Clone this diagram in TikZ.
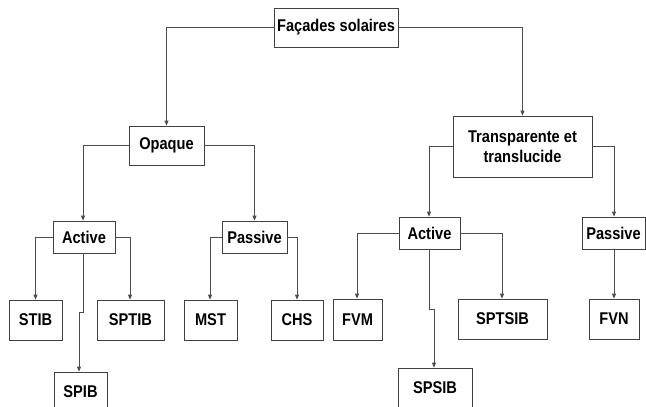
\documentclass[tikz,border=0pt]{standalone}
\usepackage{fontspec}
\setmainfont{Liberation Sans}[FakeStretch=0.86]
\usetikzlibrary{arrows.meta}
\begin{document}
\begin{tikzpicture}[x=1pt,y=-1pt,
  box/.style={draw=black!75, line width=0.8pt, inner sep=0pt, align=center,
    font=\fontsize{17}{20}\selectfont\bfseries, text=black},
  conn/.style={draw=black!70, line width=0.8pt, -{Triangle[length=5pt,width=4pt]}}]
\clip (0,0) rectangle (646,407);
\useasboundingbox (0,0) rectangle (646,407);
% level 0
\node[box, minimum width=124pt, minimum height=39pt] (fs) at (336,27.5) {Façades solaires};
% level 1
\node[box, minimum width=75pt, minimum height=39pt] (op) at (166.5,145.5) {Opaque};
\node[box, minimum width=139pt, minimum height=61pt] (tt) at (522.5,146.5) {Transparente et\\translucide};
% level 2
\node[box, minimum width=62pt, minimum height=32pt] (act1) at (84,237) {Active};
\node[box, minimum width=65pt, minimum height=32pt] (pas1) at (254.5,237) {Passive};
\node[box, minimum width=61pt, minimum height=32pt] (act2) at (429.5,233) {Active};
\node[box, minimum width=63pt, minimum height=32pt] (pas2) at (613.5,233) {Passive};
% level 3
\node[box, minimum width=53pt, minimum height=40pt] (stib) at (35.5,320) {STIB};
\node[box, minimum width=67pt, minimum height=40pt] (sptib) at (130.5,320) {SPTIB};
\node[box, minimum width=53pt, minimum height=40pt] (mst) at (210.5,320) {MST};
\node[box, minimum width=52pt, minimum height=40pt] (chs) at (297,320) {CHS};
\node[box, minimum width=53pt, minimum height=40pt] (spib) at (80.5,392) {SPIB};
\node[box, minimum width=49pt, minimum height=41pt] (fvm) at (357.5,319.5) {FVM};
\node[box, minimum width=89pt, minimum height=40pt] (sptsib) at (502.5,319) {SPTSIB};
\node[box, minimum width=50pt, minimum height=40pt] (fvn) at (614,319) {FVN};
\node[box, minimum width=74pt, minimum height=40pt] (spsib) at (435,388) {SPSIB};
% connectors
\coordinate (j1) at (83,312);
\coordinate (j2) at (79,312);
\coordinate (k1) at (429,309);
\coordinate (k2) at (434,309);
\draw[conn] (fs.west) -| (op.north);
\draw[conn] (fs.east) -| (tt.north);
\draw[conn] (op.west) -| (act1.north -| 83,0);
\draw[conn] (op.east) -| (pas1.north);
\draw[conn] (tt.west) -| (act2.north -| 429,0);
\draw[conn] (tt.east) -| (pas2.north -| 614,0);
\draw[conn] (act1.west) -| (stib.north);
\draw[conn] (act1.east) -| (sptib.north -| 130,0);
\draw[conn] (act1.south -| 83,0) -- (j1) -- (j2) -- (spib.north -| j2);
\draw[conn] (pas1.west) -| (mst.north -| 210,0);
\draw[conn] (pas1.east) -| (chs.north);
\draw[conn] (act2.west) -| (fvm.north -| 357,0);
\draw[conn] (act2.east) -| (sptsib.north -| 502,0);
\draw[conn] (act2.south -| 429,0) -- (k1) -- (k2) -- (spsib.north -| k2);
\draw[conn] (pas2.south -| 614,0) -- (fvn.north);
\end{tikzpicture}
\end{document}
